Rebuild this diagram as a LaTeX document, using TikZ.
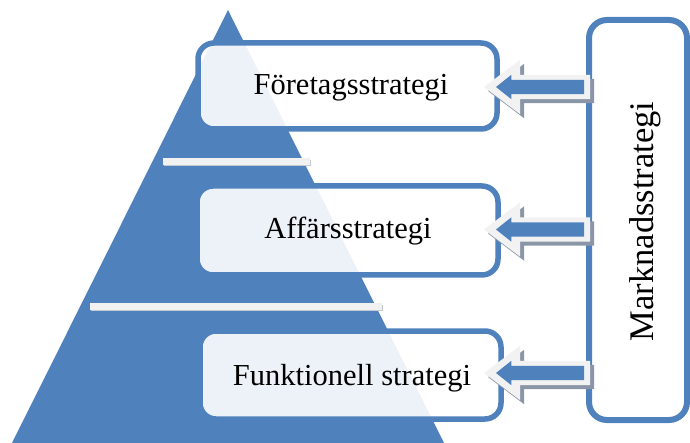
\documentclass[tikz,border=0pt]{standalone}
\usepackage{fontspec}
\setmainfont{Liberation Serif}
\usetikzlibrary{shapes.arrows}

\definecolor{pyrblue}{RGB}{79,129,189}
\definecolor{arrowlight}{RGB}{242,242,242}
\definecolor{arrowshade}{RGB}{138,150,168}
\definecolor{bandlight}{RGB}{242,241,241}
\definecolor{bandshade}{RGB}{196,200,208}

\begin{document}
\begin{tikzpicture}[x=1pt,y=-1pt,
  levelbox/.style={draw=pyrblue, line width=5.5pt, rounded corners=16pt,
    fill=white, fill opacity=0.9, inner sep=0pt, outer sep=0pt},
  marketbox/.style={draw=pyrblue, line width=6pt, rounded corners=18pt,
    fill=white, inner sep=0pt, outer sep=0pt},
  leveltext/.style={font=\fontsize{30.5}{36}\selectfont, anchor=base,
    inner sep=0pt, text=black},
  bigarrow/.style={single arrow, rotate=180, anchor=tip, inner sep=12pt,
    outer sep=0pt, minimum height=106pt, minimum width=54pt,
    single arrow head extend=15pt, single arrow tip angle=74},
  smallarrow/.style={single arrow, rotate=180, anchor=tip, inner sep=7pt,
    outer sep=0pt, minimum height=88pt, minimum width=24pt,
    single arrow head extend=5pt, single arrow tip angle=77,
    fill=pyrblue, draw=none}
]
\useasboundingbox (0,0) rectangle (690,443);

% pyramid
\fill[pyrblue] (228,10) -- (444,443) -- (12,443) -- cycle;

% separating bands across the pyramid
\fill[bandshade] (164,160) rectangle (311,166.5);
\fill[bandlight] (163,158) rectangle (310,165);
\fill[bandshade] (91,305) rectangle (383,311.5);
\fill[bandlight] (90,303) rectangle (382,310);

% strategy levels
\node[levelbox, minimum width=299pt, minimum height=86pt] (corp) at (347.5,86) {};
\node[levelbox, minimum width=301pt, minimum height=89pt] (biz) at (347.5,230.5) {};
\node[levelbox, minimum width=301pt, minimum height=88pt] (func) at (350.5,375) {};

% market strategy column
\node[marketbox, minimum width=98pt, minimum height=400pt] (market) at (638,220) {};

% block arrows from the market column to each level
\foreach \n/\y in {1/87,2/229.5,3/373}{
  \node[bigarrow, fill=arrowshade, draw=none] (sh\n) at (488,\y+4) {};
  \node[bigarrow, fill=arrowlight, draw=none] (ar\n) at (484,\y) {};
  \node[smallarrow] (in\n) at (496,\y) {};
}

% labels
\node[leveltext] (corpt) at (351,95) {Företagsstrategi};
\node[leveltext] (bizt) at (348,239) {Affärsstrategi};
\node[leveltext] (funct) at (352,385) {Funktionell strategi};
\node[leveltext, font=\fontsize{34.5}{40}\selectfont, rotate=90] (markett)
  at (653,221.5) {Marknadsstrategi};
\end{tikzpicture}
\end{document}
